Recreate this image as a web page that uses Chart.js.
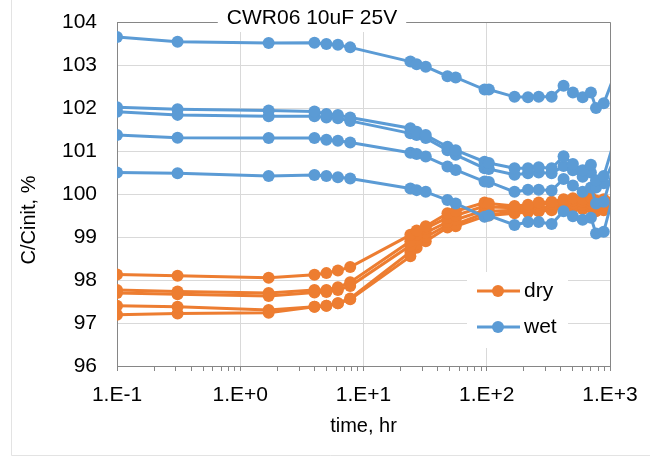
<!DOCTYPE html>
<html>
<head>
<meta charset="utf-8">
<script src="https://cdn.jsdelivr.net/npm/chart.js@4.4.1/dist/chart.umd.min.js"></script>
<style>
  html, body { margin: 0; padding: 0; background: #fff; }
</style>
</head>
<body>
<canvas id="chart" width="650" height="462"></canvas>
<script>
const chartTitle = 'CWR06 10uF 25V';
const xTitle = 'time, hr';
const yTitle = 'C/Cinit, %';

// hours
const times = [0.1, 0.31, 1.7, 4, 5, 6.2, 7.8, 24, 27, 32, 48, 56, 96, 104, 168, 216, 264, 336, 420, 500, 600, 700, 770, 890, 1200];

const dry1 = [98.13, 98.10, 98.05, 98.12, 98.16, 98.22, 98.30, 99.05, 99.15, 99.25, 99.55, 99.60, 99.80, 99.78, 99.72, 99.75, 99.80, 99.82, 99.88, 99.90, 99.88, 99.92, 99.85, 99.88, 99.95];
const dry2 = [97.77, 97.73, 97.70, 97.77, 97.77, 97.83, 97.95, 98.90, 99.05, 99.20, 99.45, 99.50, 99.72, 99.70, 99.68, 99.70, 99.75, 99.78, 99.85, 99.85, 99.82, 99.85, 99.80, 99.82, 99.90];
const dry3 = [97.70, 97.67, 97.63, 97.71, 97.72, 97.77, 97.86, 98.80, 98.95, 99.10, 99.35, 99.40, 99.62, 99.60, 99.62, 99.65, 99.68, 99.70, 99.80, 99.78, 99.75, 99.78, 99.72, 99.75, 99.85];
const dry4 = [97.40, 97.38, 97.30, 97.38, 97.40, 97.46, 97.57, 98.65, 98.85, 99.00, 99.28, 99.30, 99.55, 99.52, 99.58, 99.60, 99.62, 99.65, 99.72, 99.72, 99.70, 99.70, 99.65, 99.68, 99.75];
const dry5 = [97.19, 97.22, 97.24, 97.38, 97.40, 97.46, 97.55, 98.55, 98.75, 98.90, 99.22, 99.25, 99.48, 99.50, 99.55, 99.58, 99.60, 99.62, 99.70, 99.68, 99.65, 99.68, 99.60, 99.62, 99.70];

const wet1 = [103.65, 103.54, 103.51, 103.52, 103.49, 103.47, 103.41, 103.08, 103.02, 102.96, 102.74, 102.71, 102.43, 102.43, 102.26, 102.25, 102.26, 102.26, 102.52, 102.36, 102.25, 102.36, 102.00, 102.11, 103.08];
const wet2 = [102.02, 101.97, 101.94, 101.92, 101.86, 101.84, 101.78, 101.53, 101.45, 101.37, 101.10, 101.02, 100.75, 100.72, 100.60, 100.60, 100.62, 100.60, 100.88, 100.70, 100.55, 100.68, 100.32, 100.42, 101.66];
const wet3 = [101.91, 101.84, 101.81, 101.81, 101.78, 101.76, 101.70, 101.41, 101.37, 101.30, 101.02, 100.91, 100.60, 100.58, 100.45, 100.48, 100.50, 100.48, 100.65, 100.55, 100.40, 100.50, 100.15, 100.25, 101.10];
const wet4 = [101.37, 101.31, 101.30, 101.30, 101.26, 101.24, 101.20, 100.96, 100.93, 100.87, 100.64, 100.56, 100.29, 100.28, 100.05, 100.10, 100.10, 100.08, 100.35, 100.20, 100.05, 100.15, 99.78, 99.82, 101.10];
const wet5 = [100.50, 100.48, 100.42, 100.44, 100.42, 100.39, 100.36, 100.13, 100.09, 100.05, 99.86, 99.78, 99.47, 99.50, 99.28, 99.35, 99.35, 99.30, 99.60, 99.48, 99.40, 99.45, 99.08, 99.12, 100.55];

const dryColor = '#ED7D31';
const wetColor = '#5B9BD5';
const fontName = '"Liberation Sans", Arial, sans-serif';

const toPoints = (vals) => vals.map((v, i) => ({ x: times[i], y: v }));

const makeSet = (label, vals, color) => ({
    label: label,
    data: toPoints(vals),
    borderColor: color,
    backgroundColor: color,
    borderWidth: 3,
    pointRadius: 6,
    pointBorderWidth: 0,
    pointHoverRadius: 6,
    tension: 0,
});

// wet first so it is drawn on top
const datasets = [
    makeSet('wet', wet1, wetColor),
    makeSet('wet', wet2, wetColor),
    makeSet('wet', wet3, wetColor),
    makeSet('wet', wet4, wetColor),
    makeSet('wet', wet5, wetColor),
    makeSet('dry', dry1, dryColor),
    makeSet('dry', dry2, dryColor),
    makeSet('dry', dry3, dryColor),
    makeSet('dry', dry4, dryColor),
    makeSet('dry', dry5, dryColor),
];

const isMajor = (v) => {
    const l = Math.log10(v);
    return Math.abs(l - Math.round(l)) < 1e-6;
};

const logTicks = [];
for (let e = -1; e < 3; e++) {
    for (let s = 1; s < 10; s++) logTicks.push(s * Math.pow(10, e));
}
logTicks.push(1000);

const decorations = {
    id: 'decorations',
    beforeDraw(chart) {
        const ctx = chart.ctx;
        ctx.save();
        ctx.fillStyle = '#fff';
        ctx.fillRect(0, 0, chart.width, chart.height);
        ctx.strokeStyle = '#e3e3e3';
        ctx.lineWidth = 1;
        ctx.beginPath();
        ctx.moveTo(11.5, 0);
        ctx.lineTo(11.5, 455.5);
        ctx.lineTo(chart.width, 455.5);
        ctx.stroke();
        ctx.restore();
    },
    beforeDatasetsDraw(chart) {
        const a = chart.chartArea;
        const ctx = chart.ctx;
        ctx.save();
        ctx.strokeStyle = '#868686';
        ctx.lineWidth = 1;
        ctx.beginPath();
        ctx.moveTo(Math.round(a.left) + 0.5, Math.round(a.top) + 0.5);
        ctx.lineTo(Math.round(a.right) + 0.5, Math.round(a.top) + 0.5);
        ctx.lineTo(Math.round(a.right) + 0.5, Math.round(a.bottom) + 0.5);
        ctx.stroke();
        ctx.restore();
    },
    afterDraw(chart) {
        const ctx = chart.ctx;
        const a = chart.chartArea;
        ctx.save();

        // title sitting on the top border
        ctx.font = '21px ' + fontName;
        ctx.textBaseline = 'middle';
        ctx.textAlign = 'center';
        const tw = ctx.measureText(chartTitle).width;
        const tx = 312;
        ctx.fillStyle = '#fff';
        ctx.fillRect(tx - tw / 2 - 9, 4, tw + 18, 28);
        ctx.fillStyle = '#000';
        ctx.fillText(chartTitle, tx, 18);

        // axis titles
        ctx.font = '20px ' + fontName;
        ctx.fillText(xTitle, (a.left + a.right) / 2, 426);
        ctx.translate(29, 220);
        ctx.rotate(-Math.PI / 2);
        ctx.fillText(yTitle, 0, 0);
        ctx.setTransform(1, 0, 0, 1, 0, 0);

        // legend inside plot
        ctx.fillStyle = '#fff';
        ctx.fillRect(467, 272, 101, 76);
        const items = [['dry', dryColor, 291], ['wet', wetColor, 327]];
        items.forEach(([label, color, y]) => {
            ctx.strokeStyle = color;
            ctx.lineWidth = 3;
            ctx.beginPath();
            ctx.moveTo(477, y);
            ctx.lineTo(520, y);
            ctx.stroke();
            ctx.fillStyle = color;
            ctx.beginPath();
            ctx.arc(498, y, 6, 0, Math.PI * 2);
            ctx.fill();
            ctx.fillStyle = '#000';
            ctx.font = '21px ' + fontName;
            ctx.textAlign = 'left';
            ctx.fillText(label, 524, y);
        });
        ctx.restore();
    },
};

const chart = new Chart(document.getElementById('chart'), {
    type: 'line',
    data: { datasets: datasets },
    options: {
        responsive: false,
        animation: false,
        events: [],
        layout: { padding: { left: 0, right: 40, top: 22, bottom: 0 } },
        plugins: {
            legend: { display: false },
            title: { display: false },
            tooltip: { enabled: false },
        },
        scales: {
            x: {
                type: 'logarithmic',
                min: 0.1,
                max: 1000,
                afterBuildTicks: (scale) => {
                    scale.ticks = logTicks.map((v) => ({ value: v, major: isMajor(v) }));
                },
                afterFit: (scale) => { scale.height = 96; },
                grid: {
                    color: (c) => (c.tick && isMajor(c.tick.value) ? '#d9d9d9' : 'rgba(0,0,0,0)'),
                    tickColor: '#868686',
                    tickLength: 5,
                    lineWidth: 1,
                },
                border: { color: '#868686', width: 1 },
                ticks: {
                    autoSkip: false,
                    maxRotation: 0,
                    padding: 12,
                    color: '#000',
                    font: { family: fontName, size: 21 },
                    callback: (v) => {
                        if (!isMajor(v)) return '';
                        const e = Math.round(Math.log10(v));
                        return '1.E' + (e < 0 ? '-' : '+') + Math.abs(e);
                    },
                },
            },
            y: {
                min: 96,
                max: 104,
                afterFit: (scale) => {
                    scale.width = 117;
                    scale.paddingTop = 0;
                    scale.paddingBottom = 0;
                },
                grid: { color: '#d9d9d9', drawTicks: false, lineWidth: 1 },
                border: { color: '#868686', width: 1 },
                ticks: {
                    stepSize: 1,
                    padding: 20,
                    color: '#000',
                    font: { family: fontName, size: 21 },
                },
            },
        },
    },
    plugins: [decorations],
});
</script>
</body>
</html>
